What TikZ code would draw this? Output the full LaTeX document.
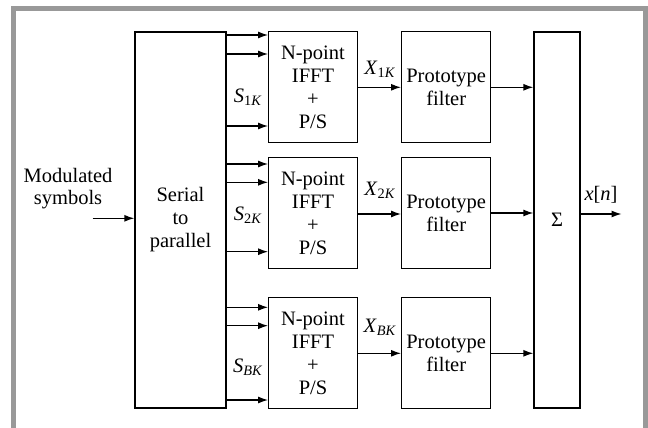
\documentclass[tikz,border=0pt]{standalone}
\usepackage{fontspec}
\setmainfont{Liberation Serif}
\newfontfamily\tms{Liberation Serif}
\usetikzlibrary{arrows.meta}
\begin{document}
\begin{tikzpicture}[x=1pt,y=-1pt,
 txt/.style={font=\tms\fontsize{20.5}{23}\selectfont},
 blk/.style={draw,line width=1.3pt,inner sep=0pt,align=center,txt},
 arr/.style={line width=1.3pt,-{Latex[length=10pt,width=7pt]}},
 lbl/.style={txt,inner sep=0pt,align=center},
 frm/.style={fill=black!40,draw=none}]
\useasboundingbox (0,0) rectangle (648,428);
\fill[frm] (11,6) rectangle (648,11);
\fill[frm] (11,6) rectangle (16,428);
\fill[frm] (643,6) rectangle (648,428);
% blocks
\node[blk,minimum width=91pt,minimum height=376pt] (sp) at (180.5,220) {Serial\\to\\parallel};
\node[blk,minimum width=88.5pt,minimum height=111pt] (f1) at (313,87.2) {N-point\\IFFT\\+\\P/S};
\node[blk,minimum width=88.5pt,minimum height=111pt] (f2) at (313,213.3) {N-point\\IFFT\\+\\P/S};
\node[blk,minimum width=88.5pt,minimum height=111pt] (f3) at (313,353) {N-point\\IFFT\\+\\P/S};
\node[blk,minimum width=89pt,minimum height=111pt] (p1) at (446.2,87.2) {Prototype\\filter};
\node[blk,minimum width=89pt,minimum height=111pt] (p2) at (446.2,213.3) {Prototype\\filter};
\node[blk,minimum width=89pt,minimum height=111pt] (p3) at (446.2,353) {Prototype\\filter};
\node[blk,minimum width=46pt,minimum height=376pt] (sg) at (557,220) {Σ};
% labels
\node[lbl] (mod) at (68,189) {Modulated\\[-1pt]symbols};
\node[lbl] (s1) at (248,97) {\textit{S}\textsubscript{1\textit{K}}};
\node[lbl] (s2) at (248,215) {\textit{S}\textsubscript{2\textit{K}}};
\node[lbl] (s3) at (248,367) {\textit{S}\textsubscript{\textit{BK}}};
\node[lbl] (x1) at (380,69) {\textit{X}\textsubscript{1\textit{K}}};
\node[lbl] (x2) at (380,190) {\textit{X}\textsubscript{2\textit{K}}};
\node[lbl] (x3) at (380,327) {\textit{X}\textsubscript{\textit{BK}}};
\node[lbl] (xn) at (601,195) {\textit{x}[\textit{n}]};
% connectors
\coordinate (in) at (92.7,218.3);
\coordinate (out) at (621.5,214);
\draw[arr] (in) -- (sp.west |- in);
\foreach \b/\ya/\yb/\yc in {f1/35/54/126, f2/164/182.3/251.7, f3/307.3/325.7/400}{
  \draw[arr] (sp.east |- 0,\ya) -- (\b.west |- 0,\ya);
  \draw[arr] (sp.east |- 0,\yb) -- (\b.west |- 0,\yb);
  \draw[arr] (sp.east |- 0,\yc) -- (\b.west |- 0,\yc);
}
\draw[arr] (f1.east |- 0,87.3) -- (p1.west |- 0,87.3);
\draw[arr] (f2.east |- 0,214) -- (p2.west |- 0,214);
\draw[arr] (f3.east |- 0,353.3) -- (p3.west |- 0,353.3);
\draw[arr] (p1.east |- 0,87.3) -- (sg.west |- 0,87.3);
\draw[arr] (p2.east |- 0,213) -- (sg.west |- 0,213);
\draw[arr] (p3.east |- 0,353.3) -- (sg.west |- 0,353.3);
\draw[arr] (sg.east |- out) -- (out);
\end{tikzpicture}
\end{document}
